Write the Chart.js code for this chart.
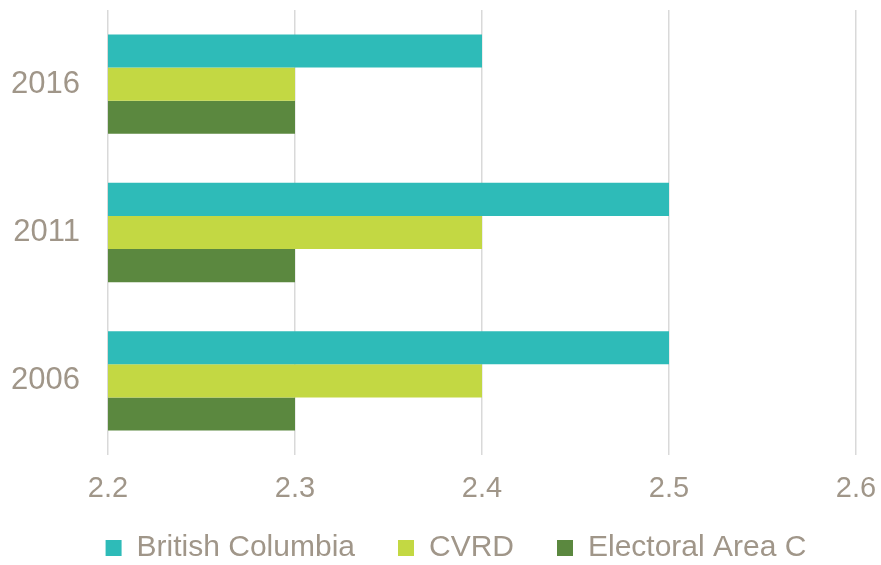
<!DOCTYPE html>
<html>
<head>
<meta charset="utf-8">
<script src="https://cdn.jsdelivr.net/npm/chart.js@4"></script>
<style>
  html, body { margin: 0; padding: 0; background: #fff; }
  #wrap { width: 881px; height: 565px; }
</style>
</head>
<body>
<div id="wrap"><canvas id="chart" width="881" height="565"></canvas></div>
<script>
// data
const years = ["2016", "2011", "2006"];
const britishColumbia = [2.4, 2.5, 2.5];
const cvrd = [2.3, 2.4, 2.4];
const electoralAreaC = [2.3, 2.3, 2.3];
const xTicks = [2.2, 2.3, 2.4, 2.5, 2.6];

const textColor = "#a09689";

// legend: wide gaps between items but a short box, nudged a bit
const legendTweak = {
    id: "legendTweak",
    beforeInit(chart) {
        if (!chart.legend) return;
        const fit = chart.legend.fit;
        chart.legend.fit = function () {
            fit.bind(chart.legend)();
            this.height = 58;
        };
    },
    afterLayout(chart) {
        const lg = chart.legend;
        if (!lg) return;
        lg.top -= 17;   // only the top moves, the box keeps its bottom
        lg.left += 44;  // items are centred between left and right
    },
};

const chart = new Chart(document.getElementById("chart").getContext("2d"), {
    type: "bar",
    data: {
        labels: years,
        datasets: [
            { label: "British Columbia", data: britishColumbia, backgroundColor: "#2ebbb8" },
            { label: "CVRD", data: cvrd, backgroundColor: "#c3d843" },
            { label: "Electoral Area C", data: electoralAreaC, backgroundColor: "#5b883f" },
        ],
    },
    plugins: [legendTweak],
    options: {
        indexAxis: "y",
        responsive: false,
        animation: false,
        layout: { padding: { top: 10, right: 25, left: 12, bottom: 0 } },
        datasets: {
            bar: { categoryPercentage: 0.67, barPercentage: 1.0 },
        },
        scales: {
            x: {
                min: 2.2,
                max: 2.6,
                afterBuildTicks: (axis) => {
                    axis.ticks = xTicks.map((v) => ({ value: v }));
                },
                afterFit: (axis) => {
                    axis.height = 52;
                    axis.paddingLeft = 0;
                    axis.paddingRight = 0;
                },
                grid: { color: "#d9d9d9", lineWidth: 1.5, drawTicks: false },
                border: { display: false },
                ticks: {
                    color: textColor,
                    font: { family: "Liberation Sans", size: 29 },
                    padding: 17,
                    callback: (v) => v.toFixed(1),
                },
            },
            y: {
                afterFit: (axis) => {
                    axis.width = 96;
                    axis.paddingTop = 0;
                    axis.paddingBottom = 0;
                },
                grid: { display: false, drawTicks: false },
                border: { display: false },
                ticks: {
                    color: textColor,
                    font: { family: "Liberation Sans", size: 31 },
                    padding: 28,
                },
            },
        },
        plugins: {
            legend: {
                position: "bottom",
                labels: {
                    color: textColor,
                    font: { family: "Liberation Sans", size: 30 },
                    boxWidth: 16,
                    boxHeight: 16,
                    padding: 43,
                },
            },
            tooltip: { enabled: false },
        },
    },
});
</script>
</body>
</html>
